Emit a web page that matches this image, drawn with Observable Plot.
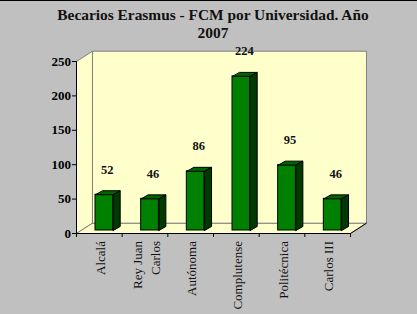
<!DOCTYPE html>
<html><head><meta charset="utf-8">
<script src="https://cdn.jsdelivr.net/npm/d3@7"></script>
<script src="https://cdn.jsdelivr.net/npm/@observablehq/plot@0.6"></script>
<style>
html,body{margin:0;padding:0;background:#c0c0c0;}
#wrap{width:417px;height:314px;position:relative;overflow:hidden;border-top:1px solid #000;box-sizing:border-box;background:#c0c0c0;}
#title{width:417px;height:41px;padding-top:5px;padding-left:9px;box-sizing:border-box;text-align:center;font:bold 15.4px/18px "Liberation Serif",serif;color:#111;}
#chart svg{display:block;}
</style>
</head><body>
<div id="wrap"><div id="title"></div><div id="chart"></div></div>
<script>
const titleLines = ["Becarios Erasmus - FCM por Universidad. Año", "2007"];
const categories = ["Alcalá", "Rey Juan\nCarlos", "Autónoma", "Complutense", "Politécnica", "Carlos III"];
const values = [52, 46, 86, 224, 95, 46];
const yTicks = [0, 50, 100, 150, 200, 250];

document.getElementById("title").innerHTML = titleLines.join("<br>");

const n = categories.length;
const yMax = yTicks[yTicks.length - 1];
const serif = "'Liberation Serif', 'Times New Roman', serif";
// 3D depth constants (in data units)
const WX = 0.35, WY = 15;                        // wall depth
const BX0 = 0.416, BW = 0.388, BDX = 0.153, BDY = 5.8; // bar position in band, bar width, bar depth

const rows = categories.map((c, i) => ({c, i, v: values[i], x1: i + BX0, x2: i + BX0 + BW}));
const poly = (key, pts) => pts.concat([pts[0]]).map(([x, y]) => ({key, x, y}));
const walls = [
  ...poly("left", [[0, 0], [0, yMax], [WX, yMax + WY], [WX, WY]]),
  ...poly("floor", [[0, 0], [n, 0], [n + WX, WY], [WX, WY]]),
  ...poly("back", [[WX, WY], [n + WX, WY], [n + WX, yMax + WY], [WX, yMax + WY]])
];
const tops = rows.flatMap(r => poly(r.c, [[r.x1, r.v], [r.x2, r.v], [r.x2 + BDX, r.v + BDY], [r.x1 + BDX, r.v + BDY]]));
const sides = rows.flatMap(r => poly(r.c, [[r.x2, 0], [r.x2 + BDX, BDY], [r.x2 + BDX, r.v + BDY], [r.x2, r.v]]));

const chart = Plot.plot({
  width: 417, height: 272,
  marginLeft: 76, marginRight: 67, marginTop: 19, marginBottom: 81,
  style: {background: "transparent", fontFamily: serif, fontSize: "13px", color: "#000", overflow: "visible"},
  x: {domain: [0, n], axis: null},
  y: {domain: [0, yMax], axis: null},
  marks: [
    Plot.line(walls, {x: "x", y: "y", z: "key", fill: "#ffffcc", stroke: "#808080", strokeWidth: 1, strokeLinejoin: "miter"}),
    Plot.ruleX([0], {y1: 0, y2: yMax, stroke: "#000", strokeWidth: 1}),
    Plot.ruleY([0], {x1: 0, x2: n, stroke: "#000", strokeWidth: 1}),
    Plot.link([{a: n, b: 0, c: n + WX, d: WY}], {x1: "a", y1: "b", x2: "c", y2: "d", stroke: "#000", strokeWidth: 1}),
    Plot.axisY({ticks: yTicks, tickSize: 4, tickFormat: () => "", label: null, stroke: "#000"}),
    Plot.text(yTicks, {x: 0, y: d => d, text: d => String(d), dx: -5.5, textAnchor: "end",
      fontWeight: "bold", fontSize: 13, fontFamily: serif, fill: "#000"}),
    Plot.axisX({ticks: d3.range(n + 1), tickSize: 4, tickFormat: () => "", label: null, stroke: "#000"}),
    Plot.text(rows, {x: d => d.i + 0.5, frameAnchor: "bottom", text: "c", rotate: -90, dy: 7.5,
      textAnchor: "end", lineAnchor: "middle", lineHeight: 1.38, fontSize: 13, fontFamily: serif, fill: "#111"}),
    Plot.rect(rows, {x1: "x1", x2: "x2", y1: 0, y2: "v", fill: "#008000", stroke: "#000", strokeWidth: 1, dy: -3}),
    Plot.line(tops, {x: "x", y: "y", z: "key", fill: "#006400", stroke: "#000", strokeWidth: 1, strokeLinejoin: "miter", dy: -3}),
    Plot.line(sides, {x: "x", y: "y", z: "key", fill: "#003a00", stroke: "#000", strokeWidth: 1, strokeLinejoin: "miter", dy: -3}),
    Plot.text(rows, {x: d => d.i + 0.676, y: "v", text: d => String(d.v), dy: -28, fontWeight: "bold",
      fontSize: 12.5, fontFamily: serif, fill: "#111"})
  ]
});
document.getElementById("chart").appendChild(chart);
</script>
</body></html>
